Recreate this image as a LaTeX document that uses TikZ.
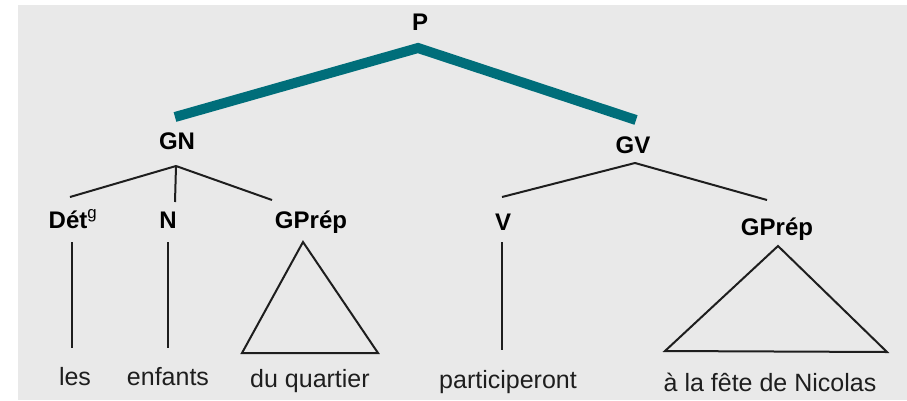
\documentclass[tikz,border=0pt]{standalone}
\usepackage{fontspec}
\setmainfont{Liberation Sans}
\definecolor{paper}{RGB}{233,233,233}
\definecolor{teal1}{RGB}{0,110,122}
\definecolor{ink}{RGB}{30,30,30}
\begin{document}
\begin{tikzpicture}[x=1pt,y=-1pt,
  lab/.style={anchor=base,inner sep=0pt,outer sep=0pt,text height=16pt,text depth=5pt,
    font=\fontsize{24}{28}\selectfont\bfseries,text=black},
  word/.style={anchor=base,inner sep=0pt,outer sep=0pt,text height=17pt,text depth=5pt,
    font=\fontsize{25}{29}\selectfont,text=ink},
  edge/.style={draw=ink,line width=2pt},
  bigedge/.style={draw=teal1,line width=10pt,line cap=butt,line join=miter}]
\useasboundingbox (0,0) rectangle (907,400);
\fill[white] (0,0) rectangle (907,400);
\fill[paper] (18,5) rectangle (907,400);
% labels
\node[lab] (P) at (420,30) {P};
\node[lab] (GN) at (177,149) {GN};
\node[lab] (GV) at (633,153) {GV};
\node[lab] (Det) at (73,228) {Dét\textsuperscript{\mdseries g}};
\node[lab] (N) at (168,228) {N};
\node[lab] (GP1) at (311,228) {GPrép};
\node[lab] (V) at (503,230) {V};
\node[lab] (GP2) at (777,235) {GPrép};
% words
\node[word] (les) at (75,385) {les};
\node[word] (enf) at (168,385) {enfants};
\node[word] (duq) at (310,387) {du quartier};
\node[word] (part) at (508,388) {participeront};
\node[word] (fete) at (770,391) {à la fête de Nicolas};
% teal top branches
\path[bigedge] ([xshift=-2pt,yshift=16pt]GN.north) -- ([xshift=-2pt,yshift=-13pt]P.south) -- ([xshift=3pt,yshift=17pt]GV.north);
% GN branches
\draw[edge] ([xshift=-1pt,yshift=-12pt]GN.south) -- ([xshift=-3pt,yshift=15pt]Det.north);
\draw[edge] ([xshift=-1pt,yshift=-12pt]GN.south) -- ([xshift=7pt,yshift=10pt]N.north);
\draw[edge] ([xshift=-1pt,yshift=-12pt]GN.south) -- ([xshift=-39pt,yshift=12pt]GP1.north);
% GV branches
\draw[edge] ([xshift=2pt,yshift=-5pt]GV.south) -- ([xshift=-1pt,yshift=17pt]V.north);
\draw[edge] ([xshift=2pt,yshift=-5pt]GV.south) -- ([xshift=-10pt,yshift=19pt]GP2.north);
% verticals
\draw[edge] ([xshift=-1pt,yshift=-9pt]Det.south) -- ([xshift=-3pt,yshift=20pt]les.north);
\draw[edge] ([yshift=-9pt]N.south) -- ([yshift=20pt]enf.north);
\draw[edge] ([xshift=-1pt,yshift=-7pt]V.south) -- ([xshift=-6pt,yshift=21pt]part.north);
% triangles
\draw[edge,line join=miter] ([xshift=-8pt,yshift=-9pt]GP1.south) -- ([xshift=-68pt,yshift=17pt]duq.north) -- ([xshift=68pt,yshift=17pt]duq.north) -- cycle;
\draw[edge,line join=miter] ([xshift=1pt,yshift=-6pt]GP2.south) -- ([xshift=-105pt,yshift=23pt]fete.north) -- ([xshift=117pt,yshift=22pt]fete.north) -- cycle;
\end{tikzpicture}
\end{document}
